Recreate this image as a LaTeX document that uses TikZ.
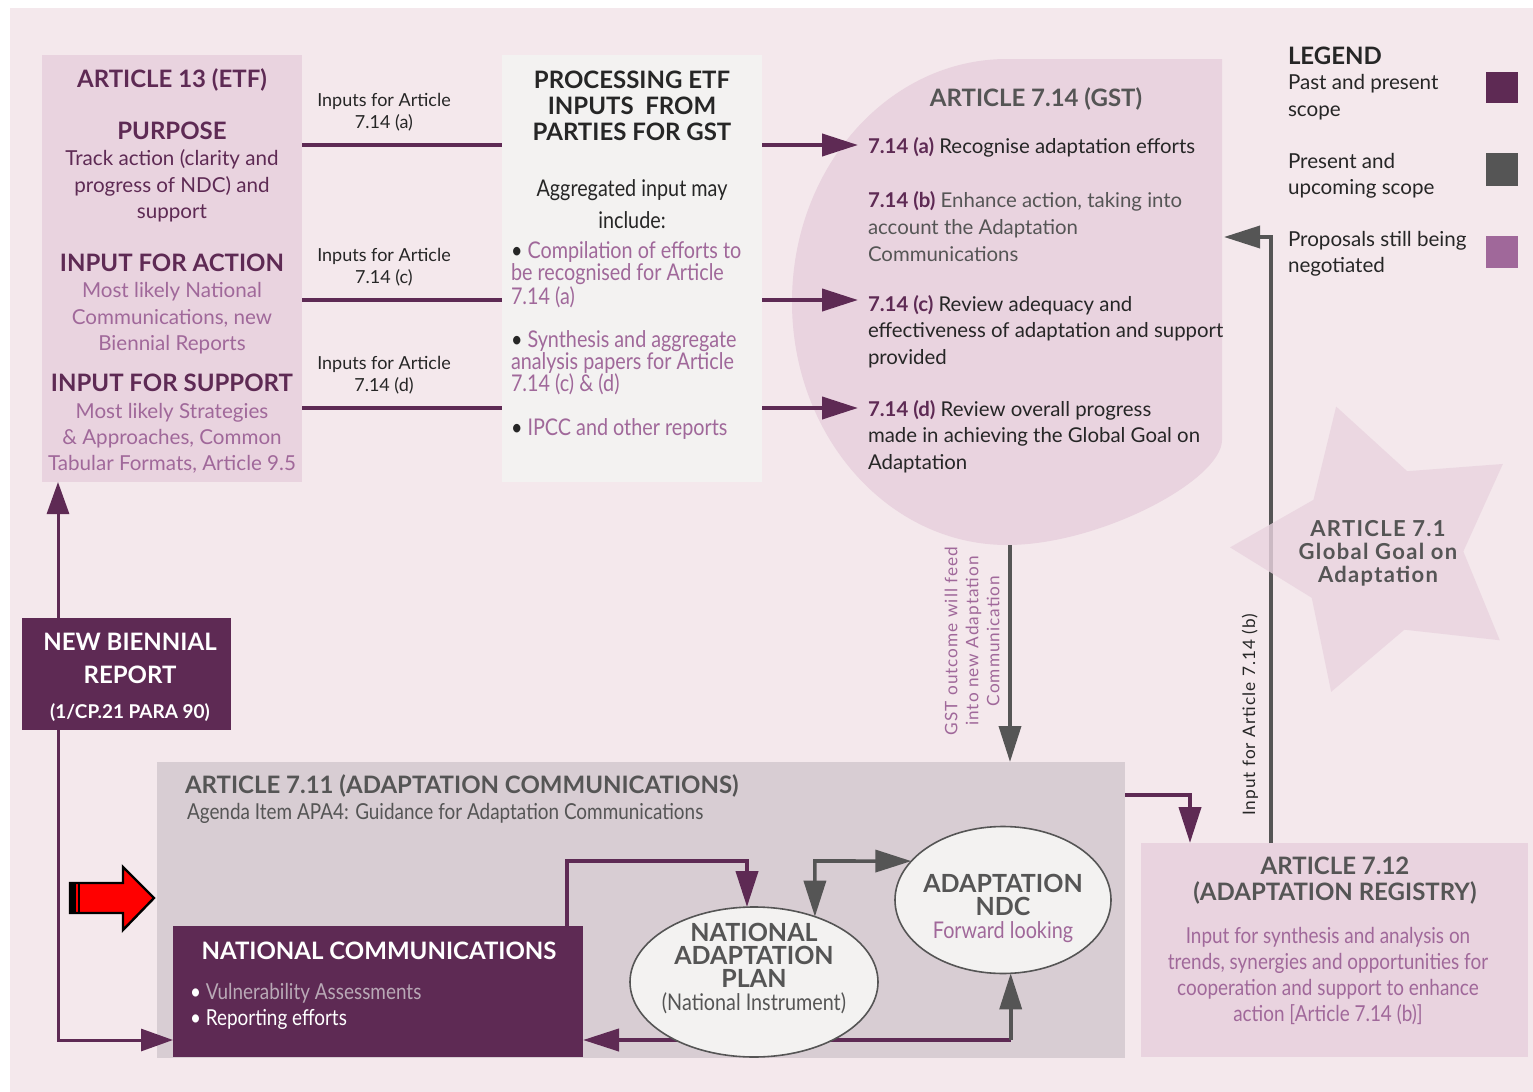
\documentclass[tikz,border=0pt]{standalone}
\usepackage{fontspec}
\setmainfont{Lato}
\newfontfamily\narrowFont{Lato}[FakeStretch=0.86]
\newfontfamily\wideFont{Lato}[LetterSpace=6]
\usepackage{xcolor}
\usetikzlibrary{arrows.meta,shapes.geometric,fit}

\definecolor{plum}{HTML}{5E2A54}
\definecolor{lilac}{HTML}{A0689A}
\definecolor{slate}{HTML}{555555}
\definecolor{ink}{HTML}{262626}
\definecolor{bgPink}{HTML}{F4E8EC}
\definecolor{boxPink}{HTML}{E9D3DF}
\definecolor{paper}{HTML}{F3F2F1}
\definecolor{mauveGray}{HTML}{D8CDD3}
\definecolor{fadedText}{HTML}{B9A9B6}

\newcommand{\itemNo}[1]{\textcolor{plum}{\bfseries #1}}
\newcommand{\headLine}[1]{{\fontsize{12}{13}\selectfont\bfseries\color{plum}#1}}
\newcommand{\plainLine}[1]{{\narrowFont\mdseries\fontsize{11.5}{11.5}\selectfont #1}}

\pgfdeclarelayer{boxes}
\pgfdeclarelayer{links}
\pgfsetlayers{boxes,links,main}

\begin{document}
\begin{tikzpicture}[
  x=0.5pt, y=-0.5pt,
  font=\fontsize{10.3}{13.2}\selectfont,
  every node/.style={align=center, inner sep=0pt, outer sep=0pt},
  panel/.style={fit={#1}, inner sep=0pt, outer sep=0pt},
  heading/.style={font=\fontsize{12}{13}\selectfont\bfseries},
  bodyText/.style={font=\fontsize{10.3}{13.2}\selectfont},
  narrowText/.style={font=\narrowFont\fontsize{11}{13}\selectfont},
  bulletText/.style={font=\narrowFont\fontsize{11.5}{11}\selectfont,align=left,anchor=west,text=lilac},
  itemText/.style={font=\fontsize{10.2}{13.3}\selectfont,align=left,anchor=west,text=ink},
  bubbleText/.style={font=\fontsize{12.5}{11.5}\selectfont\bfseries,text=slate},
  inputLabel/.style={font=\fontsize{9}{11}\selectfont,text=ink},
  sideLabel/.style={font=\wideFont\fontsize{8.6}{10.5}\selectfont,rotate=90},
  bubble/.style={ellipse,draw=slate,thick,fill=paper},
  inputLine/.style={draw=plum,line width=2pt},
  toGst/.style={draw=plum,line width=2pt,-{Triangle[length=18pt,width=11pt]}},
  plumArrow/.style={draw=plum,line width=2pt,-{Triangle[length=18pt,width=11pt]}},
  grayArrow/.style={draw=slate,line width=1.8pt,-{Triangle[length=18pt,width=11pt]}},
  etfArrow/.style={draw=plum,line width=1.5pt,-{Triangle[length=16pt,width=11pt]}}]

  \useasboundingbox (0,0) rectangle (1533,1092);

  % panels
  \begin{pgfonlayer}{boxes}
    \fill[white] (0,0) rectangle (1533,1092);
    \node[panel={(10,8) (1533,1092)}, fill=bgPink] (bBackground) {};
    \node[panel={(42,55) (302,482)}, fill=boxPink] (bArticle13) {};
    \node[panel={(502,55) (762,482)}, fill=paper] (bProcessing) {};
    \fill[boxPink] (1222,59) -- (1007,59)
      arc[start angle=270, end angle=90, x radius=215, y radius=243]
      .. controls (1100,545) and (1222,480) .. (1222,440) -- cycle;
    \node[panel={(22,618) (231,730)}, fill=plum] (bBiennial) {};
    \node[panel={(157,762) (1125,1058)}, fill=mauveGray] (bArt711) {};
    \node[panel={(173,926) (583,1057)}, fill=plum] (bNatCom) {};
    \node[panel={(1141,843) (1528,1057)}, fill=boxPink] (bRegistry) {};
    \node[panel={(1486,72) (1518,103)}, fill=plum] (sPast) {};
    \node[panel={(1486,153) (1518,186)}, fill=slate] (sPresent) {};
    \node[panel={(1486,236) (1518,268)}, fill=lilac] (sProposal) {};
  \end{pgfonlayer}
  \coordinate (gstBottom) at (1010,545);
  \coordinate (gstSide) at (1224,237);

  % bubbles inside article 7.11
  \node[bubble, minimum width=124pt, minimum height=75pt] (eNap) at (754,982) {};
  \node[bubble, minimum width=108pt, minimum height=73.5pt] (eNdc) at (1003,900) {};
  \node[star, star points=5, star point ratio=1.8, minimum size=150pt,
    shape border rotate=17, fill=boxPink, fill opacity=0.8] (sGoal) at (1380,550) {};

  % article 13
  \node[heading, text=plum] (tEtf) at (172,80) {ARTICLE 13 (ETF)};
  \node[bodyText, text=plum] (tPurpose) at (172,172)
    {\headLine{PURPOSE}\\Track action (clarity and\\progress of NDC) and\\support};
  \node[bodyText, text=lilac] (tAction) at (172,304)
    {\headLine{INPUT FOR ACTION}\\Most likely National\\Communications, new\\Biennial Reports};
  \node[bodyText, text=lilac] (tSupport) at (172,424)
    {\headLine{INPUT FOR SUPPORT}\\Most likely Strategies\\\& Approaches, Common\\Tabular Formats, Article 9.5};

  % new biennial report
  \node[font=\fontsize{12}{16.5}\selectfont\bfseries, text=white] (tBiennial) at (130,677)
    {NEW BIENNIAL\\REPORT\\[1pt]{\fontsize{9.5}{11}\selectfont (1/CP.21 PARA 90)}};

  % processing box
  \node[heading, text=ink] (tProcessing) at (632,106) {PROCESSING ETF\\INPUTS\ \ FROM\\PARTIES FOR GST};
  \node[font=\narrowFont\fontsize{11.5}{16}\selectfont, text=ink] (tAggregated) at (632,204)
    {Aggregated input may\\include:};
  \node[bulletText] (tCompilation) at (511,275)
    {\textcolor{ink}{\textbullet} Compilation of efforts to\\be recognised for Article\\7.14 (a)};
  \node[bulletText] (tSynthesis) at (511,363)
    {\textcolor{ink}{\textbullet} Synthesis and aggregate\\analysis papers for Article\\7.14 (c) \& (d)};
  \node[bulletText] (tIpcc) at (511,429) {\textcolor{ink}{\textbullet} IPCC and other reports};

  % article 7.14
  \node[heading, text=slate] (tGst) at (1036,99) {ARTICLE 7.14 (GST)};
  \node[itemText] (tItemA) at (868,147) {\itemNo{7.14 (a)} Recognise adaptation efforts};
  \node[itemText, text=slate] (tItemB) at (868,226.5)
    {\itemNo{7.14 (b)} Enhance action, taking into\\account the Adaptation\\Communications};
  \node[itemText] (tItemC) at (868,331.5)
    {\itemNo{7.14 (c)} Review adequacy and\\effectiveness of adaptation and support\\provided};
  \node[itemText] (tItemD) at (868,436.5)
    {\itemNo{7.14 (d)} Review overall progress\\made in achieving the Global Goal on\\Adaptation};

  % legend
  \node[heading, anchor=west, text=ink] (tLegend) at (1288,56) {LEGEND};
  \node[bodyText, anchor=west, align=left, text=ink] (tPast) at (1288,97) {Past and present\\scope};
  \node[bodyText, anchor=west, align=left, text=ink] (tPresent) at (1288,175.5) {Present and\\upcoming scope};
  \node[bodyText, anchor=west, align=left, text=ink] (tProposal) at (1288,254) {Proposals still being\\negotiated};

  % article 7.1 and 7.12
  \node[font=\wideFont\fontsize{11}{11.5}\selectfont\bfseries, text=slate] (tGoal) at (1378,553)
    {ARTICLE 7.1\\Global Goal on\\Adaptation};
  \node[heading, text=slate] (tRegistry) at (1335,881) {ARTICLE 7.12\\(ADAPTATION REGISTRY)};
  \node[narrowText, text=lilac] (tRegistryText) at (1328,976)
    {Input for synthesis and analysis on\\trends, synergies and opportunities for\\cooperation and support to enhance\\action [Article 7.14 (b)]};

  % article 7.11
  \node[heading, anchor=west, text=slate] (tArt711) at (185,786) {ARTICLE 7.11 (ADAPTATION COMMUNICATIONS)};
  \node[narrowText, anchor=west, text=slate] (tAgenda) at (187,813)
    {Agenda Item APA4: Guidance for Adaptation Communications};
  \node[heading, text=white] (tNatCom) at (379,951) {NATIONAL COMMUNICATIONS};
  \node[narrowText, anchor=west, align=left, text=white] (tNatComList) at (190,1006)
    {\textbullet\ \textcolor{fadedText}{Vulnerability Assessments}\\\textbullet\ Reporting efforts};
  \node[bubbleText] (tNap) at (754,969)
    {NATIONAL\\ADAPTATION\\PLAN\\\plainLine{(National Instrument)}};
  \node[bubbleText] (tNdc) at (1003,908)
    {ADAPTATION\\NDC\\\plainLine{\textcolor{lilac}{Forward looking}}};

  % side labels
  \node[sideLabel, text=lilac] (tFeed) at (972,641) {GST outcome will feed\\into new Adaptation\\Communication};
  \node[sideLabel, text=ink] (tInputB) at (1250,715) {Input for Article 7.14 (b)};

  % red marker
  \draw[fill=red, line width=1.2pt] (70,883) -- (123,883) -- (123,867) -- (154,898)
    -- (123,930) -- (123,913) -- (70,913) -- cycle;
  \fill[black] (70,883) rectangle (76,913);
  \draw[line width=1pt] (79,883) -- (79,913);

  \begin{pgfonlayer}{links}
    % article 13 to processing
    \draw [inputLine] (bArticle13.east |- 0,145) edge node[inputLabel, above=7pt, pos=0.41]
      {Inputs for Article\\7.14 (a)} (bProcessing.west |- 0,145);
    \draw [inputLine] (bArticle13.east |- 0,300) edge node[inputLabel, above=7pt, pos=0.41]
      {Inputs for Article\\7.14 (c)} (bProcessing.west |- 0,300);
    \draw [inputLine] (bArticle13.east |- 0,408) edge node[inputLabel, above=7pt, pos=0.41]
      {Inputs for Article\\7.14 (d)} (bProcessing.west |- 0,408);

    % processing to gst
    \draw [toGst] (bProcessing.east |- 0,145) -- ([xshift=-5pt]tItemA.west |- 0,145);
    \draw [toGst] (bProcessing.east |- 0,300) -- ([xshift=-5pt]tItemC.west |- 0,300);
    \draw [toGst] (bProcessing.east |- 0,408) -- ([xshift=-5pt]tItemD.west |- 0,408);

    % biennial report
    \draw [etfArrow] (bBiennial.north -| 58,0) -- (bArticle13.south -| 58,0);
    \draw [etfArrow] (bBiennial.south -| 58,0) |- (bNatCom.west |- 0,1040);

    % gst outcome and registry
    \draw [grayArrow] (gstBottom) -- (bArt711.north -| gstBottom);
    \draw [plumArrow] (bArt711.east |- 0,795) -| (bRegistry.north -| 1190,0);
    \draw [grayArrow] (bRegistry.north -| 1271,0) |- (gstSide);

    % inside article 7.11
    \draw [plumArrow] (bNatCom.north -| 567,0) -- (567,861) -| (eNap.north -| 747,0);
    \draw [grayArrow, {Triangle[length=18pt,width=11pt]}-{Triangle[length=18pt,width=11pt]}]
      (eNap.47.6) -- (eNap.47.6 |- 0,861) -- (eNdc.157);
    \draw [plumArrow] (eNdc.-84.5 |- 0,1040) -- (bNatCom.east |- 0,1040);
    \draw [grayArrow] (eNdc.-84.5 |- 0,1040) -- (eNdc.-84.5);
  \end{pgfonlayer}
\end{tikzpicture}
\end{document}
